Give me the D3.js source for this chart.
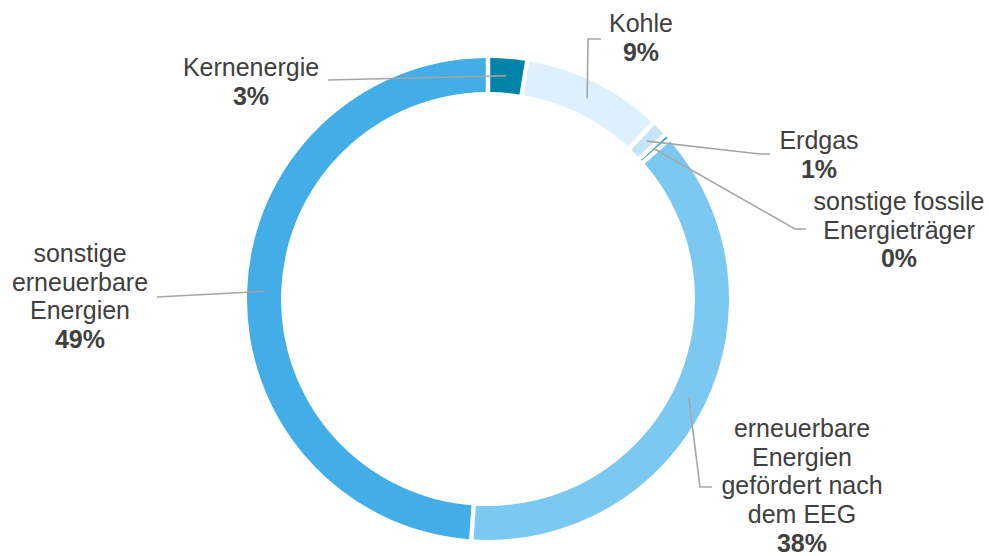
<!DOCTYPE html>
<html>
<head>
<meta charset="utf-8">
<script src="https://cdn.jsdelivr.net/npm/d3@7"></script>
<style>
  html, body { margin: 0; padding: 0; background: #ffffff; }
  svg { display: block; }
  text { font-family: "Liberation Sans", Arial, sans-serif; fill: #404040; }
</style>
</head>
<body>
<svg id="chart" width="989" height="556"></svg>
<script>
// ---- data ----
const categories = [
  "Kernenergie",
  "Kohle",
  "Erdgas",
  "sonstige fossile Energieträger",
  "erneuerbare Energien gefördert nach dem EEG",
  "sonstige erneuerbare Energien"
];
const values = [2.6, 9.4, 1.1, 0.4, 37.6, 48.9];
const colors = ["#0083a9", "#ddf0fc", "#c5e4f8", "#1b9bd1", "#7bc9f1", "#42ade6"];
const labelLines = [
  ["Kernenergie"],
  ["Kohle"],
  ["Erdgas"],
  ["sonstige fossile", "Energieträger"],
  ["erneuerbare", "Energien", "gefördert nach", "dem EEG"],
  ["sonstige", "erneuerbare", "Energien"]
];

// ---- layout ----
const cx = 488, cy = 299, rOuter = 241, rInner = 207;
const rMid = (rOuter + rInner) / 2;
const gap = 4.5;
const lineH = 28.7;
const fontSize = 25;
// label anchor (center x, first baseline y) and leader path after centroid
const labelLayout = [
  { x: 251, y: 76,  leader: [[328, 80]] },
  { x: 641, y: 32,  leader: [[588, 39], [601, 39]] },
  { x: 819, y: 149, leader: [[760, 154], [770, 154]] },
  { x: 899, y: 210, leader: [[795, 229], [806, 229]] },
  { x: 802, y: 437, leader: [[700, 487], [712, 487]] },
  { x: 80,  y: 262, leader: [[157, 297]] }
];

const svg = d3.select("#chart");
const g = svg.append("g").attr("transform", `translate(${cx},${cy})`);

const data = categories.map((c, i) => ({ name: c, value: values[i], color: colors[i], i }));
const pie = d3.pie().value(d => d.value).sort(null);
const arcs = pie(data);

const arc = d3.arc()
  .innerRadius(rInner)
  .outerRadius(rOuter)
  .padAngle(gap / rMid)
  .padRadius(rMid);

g.selectAll("path.slice")
  .data(arcs)
  .join("path")
  .attr("class", "slice")
  .attr("d", arc)
  .attr("fill", d => d.data.color);

const pct = d3.format(".0f");

// leaders
const line = d3.line();
arcs.forEach((a, i) => {
  const mid = (a.startAngle + a.endAngle) / 2;
  const sx = cx + rMid * Math.sin(mid);
  const sy = cy - rMid * Math.cos(mid);
  const pts = [[sx, sy]].concat(labelLayout[i].leader);
  svg.append("path")
    .attr("d", line(pts))
    .attr("fill", "none")
    .attr("stroke", "#a6a6a6")
    .attr("stroke-width", 1.6);
});

// labels
arcs.forEach((a, i) => {
  const L = labelLayout[i];
  const t = svg.append("text")
    .attr("text-anchor", "middle")
    .attr("font-size", fontSize);
  const lines = labelLines[i];
  lines.forEach((ln, k) => {
    t.append("tspan").attr("x", L.x).attr("y", L.y + k * lineH).text(ln);
  });
  t.append("tspan")
    .attr("x", L.x)
    .attr("y", L.y + lines.length * lineH)
    .attr("font-weight", "bold")
    .text(pct(a.data.value) + "%");
});
</script>
</body>
</html>
